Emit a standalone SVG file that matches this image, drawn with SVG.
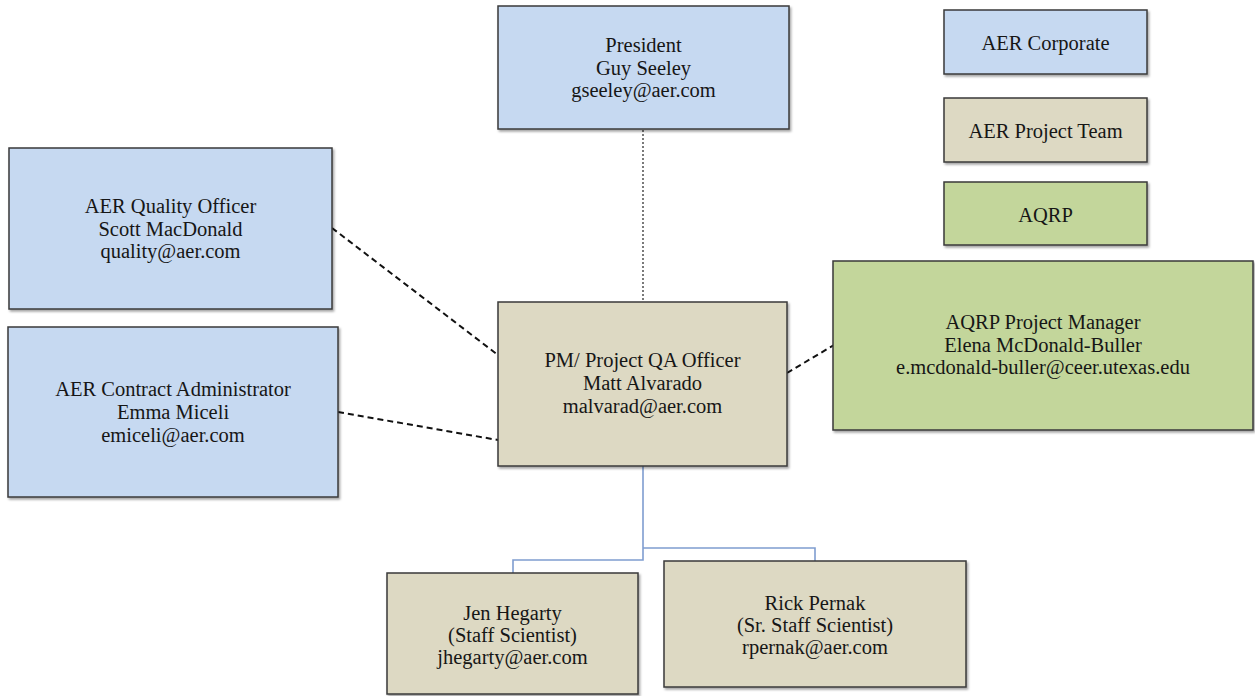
<svg xmlns="http://www.w3.org/2000/svg" width="1255" height="696" viewBox="0 0 1255 696">
<defs>
<filter id="sh" x="-5%" y="-5%" width="110%" height="115%">
<feDropShadow dx="1.5" dy="2" stdDeviation="1.2" flood-color="#000" flood-opacity="0.35"/>
</filter>
</defs>
<style>
.box{stroke:#3a3a3a;stroke-width:1.5;filter:url(#sh)}
.corp{fill:#c6d9f1}
.team{fill:#ddd9c3}
.aqrp{fill:#c3d69b}
text{font-family:"Liberation Serif","Times New Roman",serif;font-size:20.5px;fill:#161616;text-anchor:middle}
.dash{stroke:#111;stroke-width:2;stroke-dasharray:6 4;fill:none}
.dot{stroke:#222;stroke-width:1.2;stroke-dasharray:2 2;fill:none}
.blue{stroke:#7f9dd0;stroke-width:1.6;fill:none}
</style>
<rect width="1255" height="696" fill="#fff"/>
<g id="connectors">
<line class="dot" x1="643" y1="130" x2="643" y2="302"/>
<line class="dash" x1="332" y1="228" x2="498" y2="355"/>
<line class="dash" x1="338" y1="412" x2="498" y2="440"/>
<line class="dash" x1="787" y1="373" x2="834" y2="345"/>
<path class="blue" d="M643,466 V560 H513 V573"/>
<path class="blue" d="M643,548 H815 V561"/>
</g>
<g id="president">
<rect class="box corp" x="498" y="6" width="291" height="123"/>
<text x="643.5" y="52">President</text>
<text x="643.5" y="75">Guy Seeley</text>
<text x="643.5" y="97">gseeley@aer.com</text>
</g>
<g id="legend-corporate">
<rect class="box corp" x="944" y="10" width="203" height="64"/>
<text x="1045.5" y="50">AER Corporate</text>
</g>
<g id="legend-team">
<rect class="box team" x="944" y="98" width="203" height="64"/>
<text x="1045.5" y="138">AER Project Team</text>
</g>
<g id="legend-aqrp">
<rect class="box aqrp" x="944" y="182" width="203" height="63"/>
<text x="1045.5" y="222">AQRP</text>
</g>
<g id="quality-officer">
<rect class="box corp" x="9" y="148" width="323" height="161"/>
<text x="170.5" y="213">AER Quality Officer</text>
<text x="170.5" y="236">Scott MacDonald</text>
<text x="170.5" y="258">quality@aer.com</text>
</g>
<g id="contract-admin">
<rect class="box corp" x="8" y="327" width="330" height="170"/>
<text x="173" y="396">AER Contract Administrator</text>
<text x="173" y="419">Emma Miceli</text>
<text x="173" y="442">emiceli@aer.com</text>
</g>
<g id="pm">
<rect class="box team" x="498" y="302" width="289" height="164"/>
<text x="642.5" y="367">PM/ Project QA Officer</text>
<text x="642.5" y="390">Matt Alvarado</text>
<text x="642.5" y="413">malvarad@aer.com</text>
</g>
<g id="aqrp-pm">
<rect class="box aqrp" x="833" y="261" width="420" height="169"/>
<text x="1043" y="329">AQRP Project Manager</text>
<text x="1043" y="352">Elena McDonald-Buller</text>
<text x="1043" y="374">e.mcdonald-buller@ceer.utexas.edu</text>
</g>
<g id="jen">
<rect class="box team" x="387" y="573" width="251" height="121"/>
<text x="512.5" y="620">Jen Hegarty</text>
<text x="512.5" y="642">(Staff Scientist)</text>
<text x="512.5" y="664">jhegarty@aer.com</text>
</g>
<g id="rick">
<rect class="box team" x="664" y="561" width="302" height="126"/>
<text x="815" y="610">Rick Pernak</text>
<text x="815" y="632">(Sr. Staff Scientist)</text>
<text x="815" y="654">rpernak@aer.com</text>
</g>
</svg>
